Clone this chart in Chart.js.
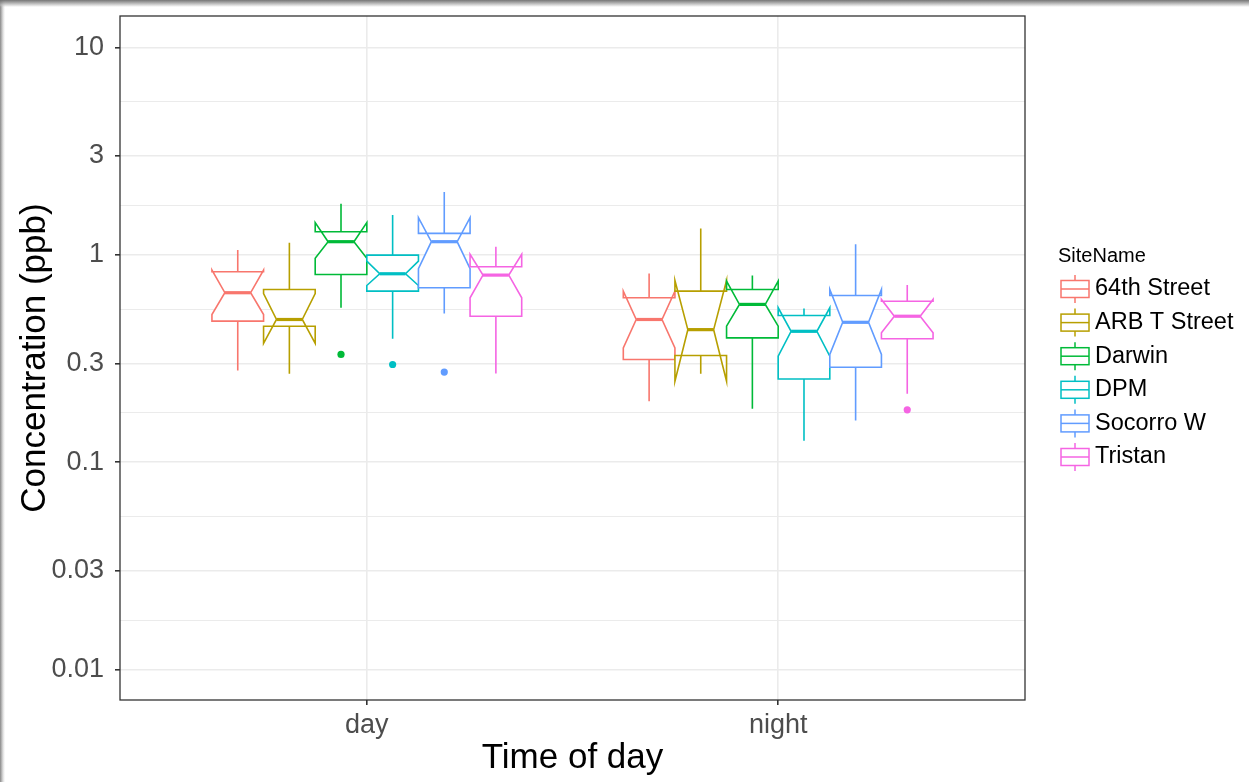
<!DOCTYPE html>
<html><head><meta charset="utf-8">
<script src="https://cdn.jsdelivr.net/npm/chart.js@4.4.0/dist/chart.umd.min.js"></script>
<style>
html,body{margin:0;padding:0;width:1249px;height:782px;overflow:hidden;}
body{background:
 linear-gradient(to bottom, rgba(110,110,110,0.95) 0px, rgba(190,190,190,0.6) 5px, rgba(255,255,255,0) 7px),
 linear-gradient(to right, rgba(130,130,130,0.95) 0px, rgba(200,200,200,0.6) 3px, rgba(255,255,255,0) 5px), #fff;}
canvas{position:absolute;left:0;top:0;}
</style></head><body>
<canvas id="c" width="1249" height="782"></canvas>
<script>
const categories = ['day', 'night'];
const sites = ['64th Street', 'ARB T Street', 'Darwin', 'DPM', 'Socorro W', 'Tristan'];
const colors = ['#F8766D', '#B79F00', '#00BA38', '#00BFC4', '#619CFF', '#F564E3'];

// each array: [day values by site], [night values by site]
const whiskerLow = [[0.277, 0.267, 0.556, 0.394, 0.522, 0.268], [0.197, 0.267, 0.181, 0.127, 0.159, 0.214]];
const q1 =         [[0.479, 0.453, 0.805, 0.669, 0.694, 0.506], [0.313, 0.327, 0.398, 0.252, 0.287, 0.394]];
const notchLow =   [[0.516, 0.374, 0.962, 0.712, 0.858, 0.621], [0.356, 0.246, 0.453, 0.325, 0.331, 0.421]];
const median =     [[0.657, 0.488, 1.158, 0.811, 1.158, 0.799], [0.488, 0.436, 0.577, 0.428, 0.473, 0.506]];
const notchHigh =  [[0.845, 0.650, 1.431, 0.933, 1.512, 1.006], [0.669, 0.753, 0.747, 0.556, 0.681, 0.610]];
const q3 =         [[0.829, 0.681, 1.294, 0.998, 1.270, 0.877], [0.621, 0.669, 0.681, 0.510, 0.637, 0.598]];
const whiskerHigh =[[1.055, 1.145, 1.767, 1.557, 2.012, 1.095], [0.814, 1.339, 0.796, 0.551, 1.124, 0.715]];

const outlierSite = [2, 3, 4, 5];
const outlierCat = [0, 0, 0, 1];
const outlierValue = [0.331, 0.296, 0.272, 0.179];

const yTickValues = [0.01, 0.03, 0.1, 0.3, 1, 3, 10];
const yTickLabels = ['0.01', '0.03', '0.1', '0.3', '1', '3', '10'];

const FONT = "'Liberation Sans', Arial, sans-serif";
Chart.defaults.font.family = FONT;

const dodgeTotal = 0.753;
const boxW = dodgeTotal / sites.length;
const centerOf = (c, s) => c + 1 + (s - (sites.length - 1) / 2) * boxW;

// major + minor (log midpoints) ticks
const allTicks = [];
yTickValues.forEach((v, i) => {
  allTicks.push({ value: v, major: true, label: yTickLabels[i] });
  if (i < yTickValues.length - 1) allTicks.push({ value: Math.sqrt(v * yTickValues[i + 1]), major: false, label: '' });
});

const datasets = sites.map((name, s) => ({
  label: name,
  data: outlierValue.map((v, k) => outlierSite[k] === s ? { x: centerOf(outlierCat[k], s), y: v } : null).filter(p => p),
  backgroundColor: colors[s],
  borderWidth: 0,
  pointRadius: 3.6,
  pointHoverRadius: 3.6
}));

const boxPlugin = {
  id: 'boxes',
  beforeDatasetsDraw(chart) {
    const { ctx, scales: { x, y } } = chart;
    const py = v => y.getPixelForValue(v);
    ctx.save();
    categories.forEach((cat, c) => {
      sites.forEach((site, s) => {
        const cx = centerOf(c, s);
        const x0 = x.getPixelForValue(cx - boxW / 2);
        const x1 = x.getPixelForValue(cx + boxW / 2);
        const xm = x.getPixelForValue(cx);
        const ind = (x1 - x0) * 0.25;
        ctx.strokeStyle = colors[s];
        ctx.lineWidth = 1.6;
        ctx.lineCap = 'butt';
        ctx.lineJoin = 'miter';
        ctx.beginPath();
        ctx.moveTo(xm, py(q3[c][s])); ctx.lineTo(xm, py(whiskerHigh[c][s]));
        ctx.moveTo(xm, py(q1[c][s])); ctx.lineTo(xm, py(whiskerLow[c][s]));
        ctx.stroke();
        ctx.beginPath();
        ctx.moveTo(x0, py(q3[c][s]));
        ctx.lineTo(x0, py(notchHigh[c][s]));
        ctx.lineTo(x0 + ind, py(median[c][s]));
        ctx.lineTo(x0, py(notchLow[c][s]));
        ctx.lineTo(x0, py(q1[c][s]));
        ctx.lineTo(x1, py(q1[c][s]));
        ctx.lineTo(x1, py(notchLow[c][s]));
        ctx.lineTo(x1 - ind, py(median[c][s]));
        ctx.lineTo(x1, py(notchHigh[c][s]));
        ctx.lineTo(x1, py(q3[c][s]));
        ctx.closePath();
        ctx.fillStyle = '#fff';
        ctx.fill();
        ctx.stroke();
        ctx.lineWidth = 3.2;
        ctx.beginPath();
        ctx.moveTo(x0 + ind, py(median[c][s]));
        ctx.lineTo(x1 - ind, py(median[c][s]));
        ctx.stroke();
      });
    });
    ctx.restore();
  },
  afterDraw(chart) {
    const { ctx, chartArea: a } = chart;
    ctx.save();
    ctx.strokeStyle = '#333';
    ctx.lineWidth = 1.3;
    ctx.strokeRect(a.left, a.top, a.right - a.left, a.bottom - a.top);
    // legend
    ctx.textBaseline = 'middle';
    ctx.textAlign = 'left';
    ctx.fillStyle = '#000';
    ctx.font = "20px " + FONT;
    ctx.fillText('SiteName', 1058, 256);
    ctx.font = "23.5px " + FONT;
    sites.forEach((name, s) => {
      const yc = 289 + s * 33.6;
      ctx.strokeStyle = colors[s];
      ctx.lineWidth = 1.5;
      ctx.beginPath();
      ctx.moveTo(1075, yc - 14); ctx.lineTo(1075, yc + 14);
      ctx.stroke();
      ctx.fillStyle = '#fff';
      ctx.fillRect(1061, yc - 8.5, 28, 17);
      ctx.strokeRect(1061, yc - 8.5, 28, 17);
      ctx.beginPath();
      ctx.moveTo(1061, yc); ctx.lineTo(1089, yc);
      ctx.stroke();
      ctx.fillStyle = '#000';
      ctx.fillText(name, 1095, yc);
    });
    ctx.restore();
  }
};

new Chart(document.getElementById('c'), {
  type: 'scatter',
  data: { datasets },
  plugins: [boxPlugin],
  options: {
    responsive: false,
    animation: false,
    events: [],
    layout: { padding: { left: 0, top: 16, right: 224, bottom: 0 } },
    plugins: { legend: { display: false }, tooltip: { enabled: false } },
    scales: {
      x: {
        type: 'linear', min: 0.4, max: 2.6, bounds: 'data',
        afterBuildTicks: s => { s.ticks = categories.map((c, i) => ({ value: i + 1 })); },
        ticks: { callback: v => categories[Math.round(v) - 1], font: { size: 27 }, color: '#4D4D4D', padding: 4, maxRotation: 0, autoSkip: false },
        grid: { color: '#EBEBEB', lineWidth: 1.6, tickColor: '#333', tickLength: 5 },
        border: { display: false },
        afterFit: s => { s.height = 82; s.paddingLeft = 0; s.paddingRight = 0; },
        title: { display: true, text: 'Time of day', font: { size: 35 }, color: '#000', padding: { top: 0, bottom: 3 } }
      },
      y: {
        type: 'logarithmic', min: 0.00713, max: 14.2, bounds: 'data',
        afterBuildTicks: s => { s.ticks = allTicks.map(t => ({ value: t.value })); },
        ticks: { callback: (v, i) => allTicks[i].label, font: { size: 27 }, color: '#4D4D4D', padding: 11, autoSkip: false },
        grid: {
          color: '#EBEBEB',
          lineWidth: c => (allTicks[c.index] && allTicks[c.index].major) ? 1.6 : 1.1,
          tickColor: c => (allTicks[c.index] && allTicks[c.index].major) ? '#333' : 'rgba(0,0,0,0)',
          tickLength: 5
        },
        border: { display: false },
        afterFit: s => { s.width = 120; s.paddingTop = 0; s.paddingBottom = 0; },
        title: { display: true, text: 'Concentration (ppb)', font: { size: 35 }, color: '#000', padding: { top: 14, bottom: 0 } }
      }
    }
  }
});
</script>
</body></html>
